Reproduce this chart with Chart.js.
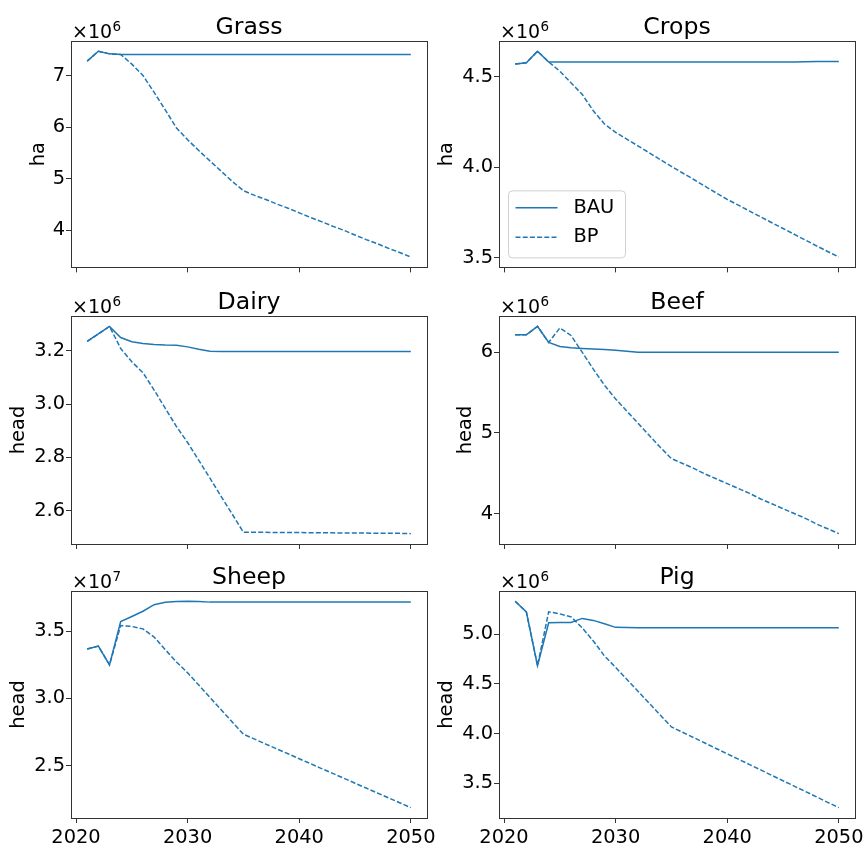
<!DOCTYPE html>
<html>
<head>
<meta charset="utf-8">
<script src="https://cdn.jsdelivr.net/npm/chart.js@4.4.1/dist/chart.umd.min.js"></script>
<style>
  body { margin: 0; background: #fff; overflow: hidden; }
  #fig { position: relative; width: 864px; height: 843px; overflow: hidden; }
  #fig canvas { position: absolute; }
</style>
</head>
<body>
<div id="fig"></div>
<script>
// data (values in units of 10^exponent)
const years = [2021, 2022, 2023, 2024, 2025, 2026, 2027, 2028, 2029, 2030,
               2031, 2032, 2033, 2034, 2035, 2036, 2037, 2038, 2039, 2040,
               2041, 2042, 2043, 2044, 2045, 2046, 2047, 2048, 2049, 2050];
const xTicks = [2020, 2030, 2040, 2050];
const seriesLabels = ['BAU', 'BP'];
const titles = ['Grass', 'Crops', 'Dairy', 'Beef', 'Sheep', 'Pig'];
const units = ['ha', 'ha', 'head', 'head', 'head', 'head'];
const exponents = [6, 6, 6, 6, 7, 6];

const grassBAU = [7.29, 7.48, 7.43, 7.42, 7.42, 7.42, 7.42, 7.42, 7.42, 7.42,
                  7.42, 7.42, 7.42, 7.42, 7.42, 7.42, 7.42, 7.42, 7.42, 7.42,
                  7.42, 7.42, 7.42, 7.42, 7.42, 7.42, 7.42, 7.42, 7.42, 7.42];
const grassBP = [7.29, 7.48, 7.43, 7.42, 7.23, 7.01, 6.68, 6.34, 5.99, 5.76,
                 5.55, 5.35, 5.15, 4.95, 4.77, 4.68, 4.60, 4.51, 4.43, 4.34,
                 4.25, 4.17, 4.08, 4.00, 3.91, 3.82, 3.74, 3.65, 3.57, 3.48];
const grassTicks = [4, 5, 6, 7];

const cropsBAU = [4.571, 4.577, 4.641, 4.582, 4.582, 4.582, 4.582, 4.582, 4.582, 4.582,
                  4.582, 4.582, 4.582, 4.582, 4.582, 4.582, 4.582, 4.582, 4.582, 4.582,
                  4.582, 4.582, 4.582, 4.582, 4.582, 4.582, 4.583, 4.585, 4.585, 4.585];
const cropsBP = [4.571, 4.577, 4.641, 4.582, 4.531, 4.467, 4.403, 4.312, 4.239, 4.193,
                 4.155, 4.118, 4.080, 4.042, 4.004, 3.968, 3.932, 3.895, 3.858, 3.822,
                 3.790, 3.757, 3.725, 3.693, 3.661, 3.629, 3.597, 3.565, 3.534, 3.503];
const cropsTicks = [3.5, 4.0, 4.5];

const dairyBAU = [3.236, 3.264, 3.292, 3.250, 3.234, 3.228, 3.224, 3.222, 3.221, 3.215,
                  3.206, 3.199, 3.198, 3.198, 3.198, 3.198, 3.198, 3.198, 3.198, 3.198,
                  3.198, 3.198, 3.198, 3.198, 3.198, 3.198, 3.198, 3.198, 3.198, 3.198];
const dairyBP = [3.236, 3.264, 3.292, 3.209, 3.159, 3.118, 3.053, 2.984, 2.916, 2.856,
                 2.789, 2.722, 2.654, 2.587, 2.519, 2.519, 2.519, 2.518, 2.518, 2.518,
                 2.517, 2.517, 2.517, 2.516, 2.516, 2.516, 2.515, 2.515, 2.515, 2.514];
const dairyTicks = [2.6, 2.8, 3.0, 3.2];

const beefBAU = [6.215, 6.215, 6.320, 6.120, 6.070, 6.054, 6.046, 6.040, 6.033, 6.025,
                 6.012, 6.000, 6.000, 6.000, 6.000, 6.000, 6.000, 6.000, 6.000, 6.000,
                 6.000, 6.000, 6.000, 6.000, 6.000, 6.000, 6.000, 6.000, 6.000, 6.000];
const beefBP = [6.215, 6.215, 6.320, 6.120, 6.300, 6.207, 6.000, 5.790, 5.590, 5.420,
                5.270, 5.120, 4.970, 4.820, 4.680, 4.620, 4.560, 4.490, 4.430, 4.370,
                4.310, 4.250, 4.180, 4.120, 4.060, 4.000, 3.940, 3.870, 3.810, 3.750];
const beefTicks = [4, 5, 6];

const sheepBAU = [3.367, 3.389, 3.249, 3.572, 3.609, 3.648, 3.697, 3.715, 3.720, 3.722,
                  3.720, 3.716, 3.716, 3.716, 3.716, 3.716, 3.716, 3.716, 3.716, 3.716,
                  3.716, 3.716, 3.716, 3.716, 3.716, 3.716, 3.716, 3.716, 3.716, 3.716];
const sheepBP = [3.367, 3.389, 3.249, 3.542, 3.535, 3.517, 3.456, 3.362, 3.271, 3.190,
                 3.099, 3.007, 2.916, 2.824, 2.733, 2.697, 2.660, 2.624, 2.588, 2.551,
                 2.515, 2.478, 2.442, 2.406, 2.369, 2.333, 2.296, 2.260, 2.224, 2.187];
const sheepTicks = [2.5, 3.0, 3.5];

const pigBAU = [5.332, 5.226, 4.684, 5.116, 5.118, 5.120, 5.160, 5.140, 5.106, 5.070,
                5.068, 5.065, 5.065, 5.065, 5.065, 5.065, 5.065, 5.065, 5.065, 5.065,
                5.065, 5.065, 5.065, 5.065, 5.065, 5.065, 5.065, 5.065, 5.065, 5.065];
const pigBP = [5.332, 5.226, 4.684, 5.226, 5.206, 5.176, 5.066, 4.933, 4.783, 4.667,
               4.547, 4.427, 4.307, 4.187, 4.068, 4.014, 3.960, 3.906, 3.851, 3.797,
               3.743, 3.689, 3.635, 3.580, 3.526, 3.472, 3.418, 3.364, 3.309, 3.255];
const pigTicks = [3.5, 4.0, 4.5, 5.0];

const bauSeries = [grassBAU, cropsBAU, dairyBAU, beefBAU, sheepBAU, pigBAU];
const bpSeries = [grassBP, cropsBP, dairyBP, beefBP, sheepBP, pigBP];
const yTickSets = [grassTicks, cropsTicks, dairyTicks, beefTicks, sheepTicks, pigTicks];
const yDecimals = [0, 1, 1, 0, 1, 1];

// layout of the 3x2 grid (pixels)
const colLeft = [0, 432], colWidth = [452, 440];
const plotLeft = [71, 499], plotRight = [427, 855];
const rowTop = [0, 280, 560], rowHeight = [280, 280, 283];
const plotTop = [41, 316, 591], plotBottom = [269, 544, 818];
const yLabelCenter = [39, 447, 19, 466, 19, 447];

const FONT = '"DejaVu Sans"';
const LINE = '#1f77b4';
const AXIS = '#333';
Chart.defaults.font.family = FONT;
Chart.defaults.color = '#000';

function range(a, b) {
    const all = a.concat(b);
    const lo = Math.min(...all), hi = Math.max(...all);
    const m = (hi - lo) * 0.05;
    return [lo - m, hi + m];
}

const panelDecor = {
    id: 'panelDecor',
    afterDraw(chart, args, opts) {
        const {ctx, chartArea: a} = chart;
        ctx.save();
        ctx.strokeStyle = AXIS;
        ctx.lineWidth = 1;
        ctx.strokeRect(Math.round(a.left) + 0.5, Math.round(a.top) + 0.5,
            Math.round(a.right) - Math.round(a.left), Math.round(a.bottom) - Math.round(a.top));
        ctx.fillStyle = '#000';
        ctx.textBaseline = 'alphabetic';
        ctx.textAlign = 'center';
        ctx.font = '23.6px ' + FONT;
        ctx.fillText(opts.title, (a.left + a.right) / 2, a.top - 7);
        // offset text  x10^n
        ctx.textAlign = 'left';
        ctx.font = '19px ' + FONT;
        const base = '\u00d710';
        ctx.fillText(base, a.left + 1, a.top - 3);
        const w = ctx.measureText(base).width;
        ctx.font = '13.5px ' + FONT;
        ctx.fillText(String(opts.exp), a.left + 1 + w + 0.5, a.top - 10);
        ctx.restore();
    }
};

const insideLegend = {
    id: 'insideLegend',
    afterDraw(chart, args, opts) {
        if (!opts.show) return;
        const {ctx, chartArea: a} = chart;
        const x0 = a.left + 9.5, y1 = a.bottom - 9.5, bw = 117, bh = 67;
        const y0 = y1 - bh;
        ctx.save();
        ctx.beginPath();
        ctx.roundRect(x0, y0, bw, bh, 4);
        ctx.fillStyle = 'rgba(255,255,255,0.8)';
        ctx.fill();
        ctx.strokeStyle = '#d0d0d0';
        ctx.lineWidth = 1;
        ctx.stroke();
        chart.data.datasets.forEach((ds, k) => {
            const yy = y0 + 17 + k * 29.3;
            ctx.beginPath();
            ctx.setLineDash(ds.borderDash || []);
            ctx.strokeStyle = ds.borderColor;
            ctx.lineWidth = ds.borderWidth;
            ctx.moveTo(x0 + 7, yy);
            ctx.lineTo(x0 + 49, yy);
            ctx.stroke();
            ctx.setLineDash([]);
            ctx.fillStyle = '#000';
            ctx.font = '19.4px ' + FONT;
            ctx.textBaseline = 'middle';
            ctx.textAlign = 'left';
            ctx.fillText(ds.label, x0 + 65, yy);
        });
        ctx.restore();
    }
};

function drawChart(i) {
    const col = i % 2, row = Math.floor(i / 2);
    const canvas = document.createElement('canvas');
    canvas.width = colWidth[col];
    canvas.height = rowHeight[row];
    canvas.style.left = colLeft[col] + 'px';
    canvas.style.top = rowTop[row] + 'px';
    document.getElementById('fig').appendChild(canvas);

    const yAxisW = plotLeft[col] - colLeft[col];
    const xAxisH = rowTop[row] + rowHeight[row] - plotBottom[row];
    const [yMin, yMax] = range(bauSeries[i], bpSeries[i]);
    const [xMin, xMax] = range([years[0]], [years[years.length - 1]]);
    const titlePad = yLabelCenter[i] - colLeft[col] - 19.4 * 1.2 / 2;
    const yTicks = yTickSets[i];
    const showX = row === 2;

    const data = {
        datasets: [{
            label: seriesLabels[0],
            data: years.map((y, k) => ({x: y, y: bauSeries[i][k]})),
            borderColor: LINE,
            borderWidth: 1.5,
            pointRadius: 0,
            tension: 0
        }, {
            label: seriesLabels[1],
            data: years.map((y, k) => ({x: y, y: bpSeries[i][k]})),
            borderColor: LINE,
            borderWidth: 1.5,
            borderDash: [5, 2.2],
            pointRadius: 0,
            tension: 0
        }]
    };

    const config = {
        type: 'line',
        data: data,
        plugins: [panelDecor, insideLegend],
        options: {
            responsive: false,
            animation: false,
            layout: {
                padding: {
                    left: 0, bottom: 0,
                    top: plotTop[row] - rowTop[row],
                    right: colLeft[col] + colWidth[col] - plotRight[col]
                }
            },
            plugins: {
                legend: {display: false},
                tooltip: {enabled: false},
                panelDecor: {title: titles[i], exp: exponents[i]},
                insideLegend: {show: i === 1}
            },
            scales: {
                x: {
                    type: 'linear',
                    min: xMin,
                    max: xMax,
                    afterBuildTicks: (s) => { s.ticks = xTicks.map(v => ({value: v})); },
                    afterFit: (s) => { s.height = xAxisH; },
                    border: {display: false},
                    grid: {drawOnChartArea: false, tickLength: 5, tickColor: AXIS, lineWidth: 1},
                    ticks: {
                        display: showX,
                        font: {size: 19.4},
                        color: '#000',
                        padding: 3,
                        maxRotation: 0,
                        autoSkip: false,
                        callback: (v) => String(v)
                    }
                },
                y: {
                    min: yMin,
                    max: yMax,
                    afterBuildTicks: (s) => { s.ticks = yTicks.map(v => ({value: v})); },
                    afterFit: (s) => { s.width = yAxisW; },
                    border: {display: false},
                    grid: {drawOnChartArea: false, tickLength: 5, tickColor: AXIS, lineWidth: 1},
                    ticks: {
                        font: {size: 19.4},
                        color: '#000',
                        padding: 1,
                        autoSkip: false,
                        callback: (v) => Number(v).toFixed(yDecimals[i])
                    },
                    title: {
                        display: true,
                        text: units[i],
                        font: {size: 19.4},
                        color: '#000',
                        padding: {top: titlePad, bottom: 0}
                    }
                }
            }
        }
    };

    new Chart(canvas, config);
}

for (let i = 0; i < titles.length; i++) {
    drawChart(i);
}
</script>
</body>
</html>
